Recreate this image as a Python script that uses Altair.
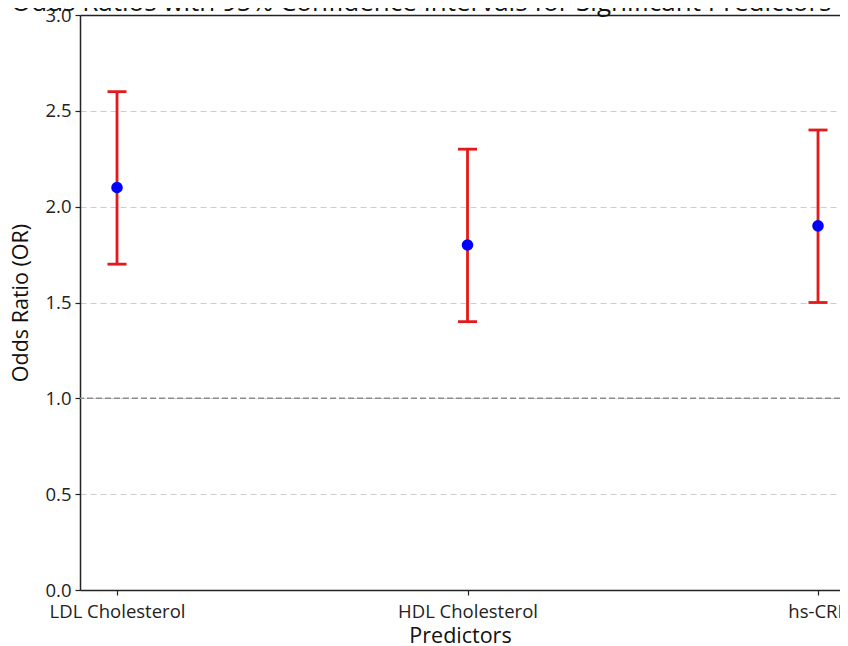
import altair as alt
import pandas as pd

# ---- data ----
predictors = ["LDL Cholesterol", "HDL Cholesterol", "hs-CRP"]
odds_ratios = [2.1, 1.8, 1.9]
ci_lower = [1.7, 1.4, 1.5]
ci_upper = [2.6, 2.3, 2.4]
y_ticks = [0.0, 0.5, 1.0, 1.5, 2.0, 2.5, 3.0]
reference_or = [1.0]
title_text = ["Odds Ratios with 95% Confidence Intervals for Significant Predictors of CAD"]

df = pd.DataFrame({
    "idx": list(range(len(predictors))),
    "predictor": predictors,
    "or": odds_ratios,
    "lo": ci_lower,
    "hi": ci_upper,
})
ref = pd.DataFrame({"y": reference_or})
ttl = pd.DataFrame({"t": title_text})

FONT = "Open Sans"
INK = "#222222"
RED = "#e3191c"
BLUE = "#0000ff"
W, H = 760, 575
PX_PER_UNIT = 350.5
X0 = -0.1056

label_expr = "[" + ",".join(f"'{p}'" for p in predictors) + "][round(datum.value)]"

x_axis = alt.Axis(values=[0, 1, 2], labelExpr=label_expr, title="Predictors",
                  grid=False, tickSize=5, labelPadding=7, titlePadding=5,
                  labelFontSize=18.5, titleFontSize=21.5)
x_top_axis = alt.Axis(orient="top", labels=False, ticks=False, title=None,
                      grid=False, domain=True)
y_axis = alt.Axis(values=y_ticks, format=".1f", title="Odds Ratio (OR)",
                  grid=True, gridDash=[6, 4], gridColor="#cccccc", gridWidth=1,
                  tickSize=5, labelPadding=4, titlePadding=12,
                  labelFontSize=18.5, titleFontSize=21.5)

x_scale = alt.Scale(domain=[X0, X0 + W / PX_PER_UNIT], nice=False, zero=False)
y_scale = alt.Scale(domain=[0, 3], nice=False, zero=True)

base = alt.Chart(df)

ref_line = alt.Chart(ref).mark_rule(color="#8c8c8c", strokeDash=[6, 3], strokeWidth=1.5).encode(
    y=alt.Y("y:Q", scale=y_scale, axis=y_axis)
)

top_frame = base.mark_point(opacity=0).encode(
    x=alt.X("idx:Q", scale=x_scale, axis=x_top_axis),
    y=alt.Y("or:Q", scale=y_scale, axis=y_axis),
)

bars = base.mark_rule(color=RED, strokeWidth=2.8).encode(
    x=alt.X("idx:Q", scale=x_scale, axis=x_axis),
    y=alt.Y("lo:Q", scale=y_scale, axis=y_axis),
    y2="hi:Q",
)

cap_lo = base.mark_tick(color=RED, orient="horizontal", size=19, thickness=2.8, opacity=1).encode(
    x=alt.X("idx:Q", scale=x_scale, axis=None),
    y=alt.Y("lo:Q", scale=y_scale, axis=y_axis),
)
cap_hi = base.mark_tick(color=RED, orient="horizontal", size=19, thickness=2.8, opacity=1).encode(
    x=alt.X("idx:Q", scale=x_scale, axis=None),
    y=alt.Y("hi:Q", scale=y_scale, axis=y_axis),
)

points = base.mark_point(filled=True, shape="circle", size=135, color=BLUE, opacity=1).encode(
    x=alt.X("idx:Q", scale=x_scale, axis=None),
    y=alt.Y("or:Q", scale=y_scale, axis=y_axis),
)

title_mark = alt.Chart(ttl).mark_text(
    font=FONT, fontSize=26, color="#111111", align="center", baseline="alphabetic"
).encode(
    text="t:N",
    x=alt.value(386),
    y=alt.value(-4),
)

chart = alt.layer(ref_line, top_frame, bars, cap_lo, cap_hi, points, title_mark).resolve_axis(
    x="independent", y="shared"
).properties(
    width=W,
    height=H,
    padding={"left": 72, "top": 7, "right": 0, "bottom": 60},
    autosize=alt.AutoSizeParams(type="none"),
).configure_view(
    stroke=None
).configure_axis(
    labelFont=FONT, titleFont=FONT, labelColor=INK, titleColor="#111111",
    titleFontWeight="normal", domainColor=INK, domainWidth=1.5,
    tickColor=INK, tickWidth=1.2,
)

chart.save("out.html", embed_options={"renderer": "svg", "actions": False})
